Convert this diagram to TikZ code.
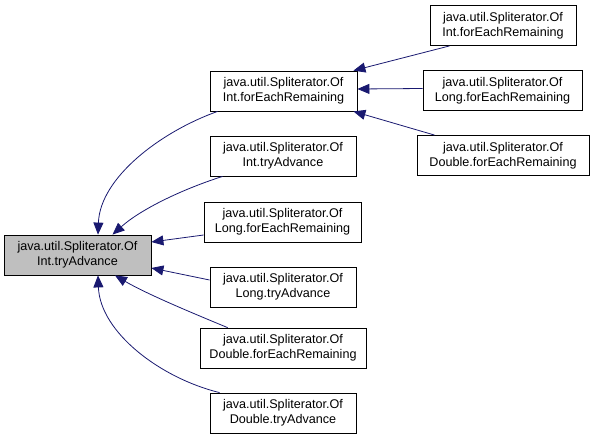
\documentclass[tikz,border=0pt]{standalone}
\usepackage{fontspec}
\setmainfont{Liberation Sans}
\usetikzlibrary{arrows.meta}
\definecolor{edgeblue}{HTML}{191970}
\begin{document}
\begin{tikzpicture}[x=1pt, y=-1pt]
    % Define node and edge styles
    \tikzstyle{func} = [draw, rectangle, fill=white, line width=0.8pt, minimum height=40pt, inner sep=0pt, align=center, font=\fontsize{12.6}{15}\selectfont]
    \tikzstyle{self} = [func, fill=black!25]
    \tikzstyle{call} = [draw=edgeblue, line width=0.8pt, -{Triangle[length=12pt, width=10pt]}]

    \useasboundingbox (0,0) rectangle (593,444);

    % Function nodes
    \node[self, minimum width=147pt] (target) at (77.5,255) {java.util.Spliterator.Of\\Int.tryAdvance};
    \node[func, minimum width=147pt] (intfer) at (283.5,91) {java.util.Spliterator.Of\\Int.forEachRemaining};
    \node[func, minimum width=146pt] (inttry) at (283,156) {java.util.Spliterator.Of\\Int.tryAdvance};
    \node[func, minimum width=157pt] (longfer) at (282.5,222) {java.util.Spliterator.Of\\Long.forEachRemaining};
    \node[func, minimum width=146pt] (longtry) at (283,287) {java.util.Spliterator.Of\\Long.tryAdvance};
    \node[func, minimum width=166pt] (dblfer) at (283,348) {java.util.Spliterator.Of\\Double.forEachRemaining};
    \node[func, minimum width=146pt] (dbltry) at (283,413) {java.util.Spliterator.Of\\Double.tryAdvance};
    \node[func, minimum width=146pt] (rintfer) at (503,25.5) {java.util.Spliterator.Of\\Int.forEachRemaining};
    \node[func, minimum width=159pt] (rlongfer) at (502.5,90.5) {java.util.Spliterator.Of\\Long.forEachRemaining};
    \node[func, minimum width=172pt] (rdblfer) at (503,155.5) {java.util.Spliterator.Of\\Double.forEachRemaining};

    % Callers of the target
    \draw[call] ([xshift=8pt]intfer.south west) .. controls (160,132) and (100,178) .. ([xshift=20.5pt]target.north);
    \draw[call] ([xshift=13pt]inttry.south west) .. controls (180,190) and (140,210) .. ([xshift=35pt]target.north);
    \draw[call] ([yshift=-13pt]longfer.west) -- ([yshift=13pt]target.east);
    \draw[call] ([yshift=7pt]longtry.west) -- ([yshift=-13pt]target.east);
    \draw[call] ([xshift=28pt]dblfer.north west) .. controls (185,310) and (145,293) .. ([xshift=37.5pt]target.south);
    \draw[call] ([xshift=10pt]dbltry.north west) .. controls (160,378) and (100,332) .. ([xshift=20.5pt]target.south);

    % Callers of forEachRemaining
    \draw[call] ([xshift=20pt]rintfer.south west) -- ([xshift=-4pt]intfer.north east);
    \draw[call] ([yshift=2pt]rlongfer.west) -- ([yshift=2pt]intfer.east);
    \draw[call] ([xshift=18pt]rdblfer.north west) -- ([xshift=-4pt]intfer.south east);
\end{tikzpicture}
\end{document}
